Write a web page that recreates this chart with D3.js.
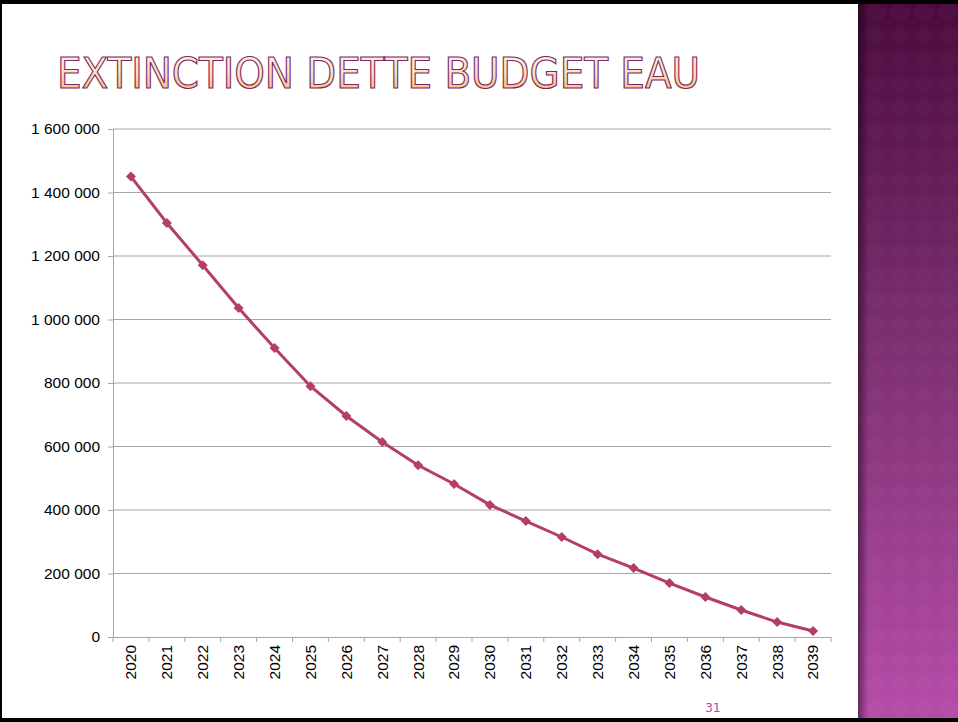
<!DOCTYPE html>
<html>
<head>
<meta charset="utf-8">
<script src="https://cdn.jsdelivr.net/npm/d3@7"></script>
<style>
  body { margin: 0; background: #fff; }
  svg { display: block; }
</style>
</head>
<body>
<div id="chart"></div>
<script>
// data
const years = ["2020","2021","2022","2023","2024","2025","2026","2027","2028","2029",
               "2030","2031","2032","2033","2034","2035","2036","2037","2038","2039"]
const dette = [1450000,1304000,1171000,1036000,910000,790000,696000,614000,541000,482000,
               416000,365000,315000,261000,217000,170000,126000,85000,47000,19000]
const yTicks = [0,200000,400000,600000,800000,1000000,1200000,1400000,1600000]

var width = 958
var height = 722

const svg = d3.select('#chart').append('svg')
  .attr('width', width)
  .attr('height', height)

const defs = svg.append('defs')

// side panel gradient
const panelGrad = defs.append('linearGradient')
  .attr('id','panelGrad').attr('x1',0).attr('y1',0).attr('x2',0).attr('y2',1)
panelGrad.append('stop').attr('offset','0%').attr('stop-color','#4a0a3d')
panelGrad.append('stop').attr('offset','45%').attr('stop-color','#7a2d6e')
panelGrad.append('stop').attr('offset','100%').attr('stop-color','#b64ca9')

const shadowGrad = defs.append('linearGradient')
  .attr('id','shadowGrad').attr('x1',0).attr('y1',0).attr('x2',1).attr('y2',0)
shadowGrad.append('stop').attr('offset','0%').attr('stop-color','#000').attr('stop-opacity',0.45)
shadowGrad.append('stop').attr('offset','100%').attr('stop-color','#000').attr('stop-opacity',0)

// diamond texture
const pat = defs.append('pattern')
  .attr('id','diamonds').attr('width',24).attr('height',24)
  .attr('patternUnits','userSpaceOnUse')
pat.append('path').attr('d','M12 0 L24 12 L12 24 L0 12 Z')
  .attr('fill','#fff').attr('fill-opacity',0.02)

const titleGrad = defs.append('linearGradient')
  .attr('id','titleGrad').attr('x1',0).attr('y1',0).attr('x2',0).attr('y2',1)
titleGrad.append('stop').attr('offset','0%').attr('stop-color','#fff6ee')
titleGrad.append('stop').attr('offset','50%').attr('stop-color','#fde0c0')
titleGrad.append('stop').attr('offset','100%').attr('stop-color','#f9b25a')

// side panel
svg.append('rect').attr('x',858).attr('y',0).attr('width',100).attr('height',height)
  .attr('fill','url(#panelGrad)')
svg.append('rect').attr('x',858).attr('y',0).attr('width',100).attr('height',height)
  .attr('fill','url(#diamonds)')
svg.append('rect').attr('x',858).attr('y',0).attr('width',10).attr('height',height)
  .attr('fill','url(#shadowGrad)')

// slide border
svg.append('rect').attr('x',0).attr('y',0).attr('width',width).attr('height',4).attr('fill','#000')
svg.append('rect').attr('x',0).attr('y',718).attr('width',width).attr('height',4).attr('fill','#000')
svg.append('rect').attr('x',0).attr('y',0).attr('width',2).attr('height',height).attr('fill','#000')

// title
svg.append('text')
  .attr('x',57).attr('y',88)
  .attr('font-family','"DejaVu Sans Condensed", "DejaVu Sans", sans-serif')
  .attr('font-size',43)
  .attr('textLength',643).attr('lengthAdjust','spacingAndGlyphs')
  .attr('fill','url(#titleGrad)')
  .attr('stroke','#7a2a63').attr('stroke-width',1.1)
  .text('EXTINCTION DETTE BUDGET EAU')

// scales
const x = d3.scaleBand().domain(years).range([113,831])
const y = d3.scaleLinear().domain([0,1600000]).range([637,129])

const fmt = v => d3.format(',')(v).replace(/,/g,' ')

// gridlines
svg.append('g').selectAll('line')
  .data(yTicks.slice(1))
  .enter().append('line')
  .attr('x1',113).attr('x2',831)
  .attr('y1',d=>y(d)).attr('y2',d=>y(d))
  .attr('stroke','#a6a6a6').attr('stroke-width',1)

// y axis
const yAxis = svg.append('g')
  .attr('transform','translate(113,0)')
  .call(d3.axisLeft(y).tickValues(yTicks).tickFormat(fmt).tickSizeOuter(0).tickSize(5).tickPadding(8))
yAxis.select('.domain').attr('stroke','#a6a6a6')
yAxis.selectAll('.tick line').attr('stroke','#a6a6a6')
yAxis.selectAll('text')
  .attr('font-family','"Liberation Sans", Arial, sans-serif')
  .attr('font-size',15.5).attr('fill','#000')

// x axis
const xAxis = svg.append('g')
  .attr('transform','translate(0,637)')
  .call(d3.axisBottom(x).tickSize(0).tickSizeOuter(0))
xAxis.select('.domain').attr('stroke','#a6a6a6')
xAxis.selectAll('text')
  .attr('font-family','"Liberation Sans", Arial, sans-serif')
  .attr('font-size',15.5).attr('fill','#000')
  .attr('transform','rotate(-90)')
  .attr('text-anchor','end')
  .attr('x',-8).attr('y',0).attr('dy','0.35em')

// x tick marks at band edges
svg.append('g').selectAll('line')
  .data(years.concat(['end']))
  .enter().append('line')
  .attr('x1',(d,i)=> i < years.length ? x(d) : x.range()[1])
  .attr('x2',(d,i)=> i < years.length ? x(d) : x.range()[1])
  .attr('y1',637).attr('y2',642)
  .attr('stroke','#a6a6a6')

// line
const line = d3.line()
  .x((d,i)=>x(years[i]) + x.bandwidth()/2)
  .y(d=>y(d))

svg.append('path')
  .datum(dette)
  .attr('d',line)
  .attr('fill','none')
  .attr('stroke','#b43d6b')
  .attr('stroke-width',3)

svg.append('g').selectAll('path')
  .data(dette)
  .enter().append('path')
  .attr('d',d3.symbol().type(d3.symbolSquare).size(50))
  .attr('transform',(d,i)=>`translate(${x(years[i]) + x.bandwidth()/2},${y(d)}) rotate(45)`)
  .attr('fill','#b43d6b')

// page number
svg.append('text')
  .attr('x',713).attr('y',712)
  .attr('text-anchor','middle')
  .attr('font-family','"DejaVu Sans", sans-serif')
  .attr('font-size',12)
  .attr('fill','#b246a3')
  .text('31')
</script>
</body>
</html>
